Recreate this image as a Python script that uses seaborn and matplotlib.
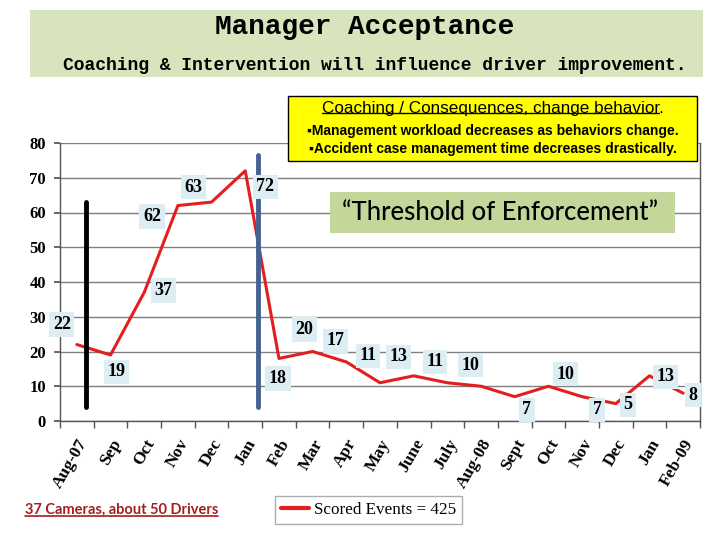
import matplotlib
matplotlib.use('Agg')
import matplotlib.pyplot as plt
import seaborn as sns
from matplotlib.patches import Rectangle
from matplotlib.lines import Line2D

# data
months = ['Aug-07', 'Sep', 'Oct', 'Nov', 'Dec', 'Jan', 'Feb', 'Mar', 'Apr', 'May', 'June',
          'July', 'Aug-08', 'Sept', 'Oct', 'Nov', 'Dec', 'Jan', 'Feb-09']
events = [22, 19, 37, 62, 63, 72, 18, 20, 17, 11, 13, 11, 10, 7, 10, 7, 5, 13, 8]
yticks = [0, 10, 20, 30, 40, 50, 60, 70, 80]

# vertical marker bars (x in category units, y range)
black_bar = (0.27, 4, 63)
blue_bar = (5.37, 4, 76.5)

# pixel offsets of the value labels from their points
label_offsets = [(-15, 20), (6, -17), (19, 2), (-26, -11), (-18, 15), (20, -16), (-1, -20),
                 (-8, 22), (-11, 21), (-12, 27), (-15, 19), (-12, 21), (-11, 21), (12, -13),
                 (17, 12), (15, -13), (12, -1), (16, -1), (10, -2)]

sns.set_theme(style='white')
plt.rcParams['font.family'] = ['Liberation Serif', 'DejaVu Serif']
plt.rcParams['text.color'] = 'black'
plt.rcParams['xtick.color'] = 'black'
plt.rcParams['ytick.color'] = 'black'

fig = plt.figure(figsize=(7.2, 5.4), dpi=100)
fig.patch.set_facecolor('white')
ax = fig.add_axes([60/720, 1-421/540, 640/720, 278/540])

x = list(range(len(months)))
sns.lineplot(x=x, y=events, ax=ax, color='#E41E1E', linewidth=2.2, label='Scored Events = 425')

ax.set_xlim(-0.5, len(months) - 0.5)
ax.set_ylim(0, 80)
ax.set_yticks(yticks)
ax.set_yticklabels([str(v) for v in yticks], fontsize=12, fontweight='bold')
ax.set_xticks(x)
ax.set_xticklabels(months, rotation=60, ha='right', va='top', rotation_mode='anchor',
                   fontsize=12.5, fontweight='bold')
ax.set_xticks([i - 0.5 for i in range(len(months) + 1)], minor=True)
ax.tick_params(axis='x', which='major', length=0, pad=11)
ax.tick_params(axis='x', which='minor', length=5, direction='out', color='#555555', width=1, bottom=True)
ax.tick_params(axis='y', length=4, direction='out', color='#555555', left=True, pad=6)
ax.yaxis.grid(True, color='#7f7f7f', linewidth=1)
ax.set_axisbelow(True)
ax.spines['top'].set_visible(False)
for s in ['left', 'bottom', 'right']:
    ax.spines[s].set_color('#555555')
    ax.spines[s].set_linewidth(1)
ax.set_xlabel('')
ax.set_ylabel('')
ax.get_legend().remove()

# marker bars
ax.plot([black_bar[0]] * 2, black_bar[1:], color='black', linewidth=3.5, zorder=3)
ax.plot([blue_bar[0]] * 2, blue_bar[1:], color='#44628F', linewidth=3.5, zorder=3)

# value labels
for i, v in enumerate(events):
    ax.annotate(str(v), (i, v), xytext=label_offsets[i], textcoords='offset pixels',
                ha='center', va='center', fontsize=13, fontweight='bold', color='black',
                bbox=dict(boxstyle='square,pad=0.2', facecolor='#DCEEF4', edgecolor='none'),
                zorder=4, annotation_clip=False)

# title banner
fig.patches.append(Rectangle((30/720, 1-77/540), 673/720, 67/540, transform=fig.transFigure,
                             facecolor='#D8E4BC', edgecolor='none', zorder=0))
fig.text(0.507, 0.950, 'Manager Acceptance', ha='center', va='center', fontsize=20,
         fontweight='bold', family=['Liberation Mono', 'DejaVu Sans Mono'])
fig.text(0.52, 0.878, 'Coaching & Intervention will influence driver improvement.', ha='center',
         va='center', fontsize=13, fontweight='bold', family=['Liberation Mono', 'DejaVu Sans Mono'])

# yellow callout
fig.patches.append(Rectangle((288/720, 1-161/540), 409/720, 65/540, transform=fig.transFigure,
                             facecolor='#FFFF00', edgecolor='black', linewidth=1, zorder=5))
head = fig.text(0.685, 0.800, 'Coaching / Consequences, change behavior.', ha='center', va='center',
                fontsize=12.3, family=['Liberation Sans', 'DejaVu Sans'], zorder=6)
fig.text(0.685, 0.757, '\u25aaManagement workload decreases as behaviors change.', ha='center',
         va='center', fontsize=10, fontweight='bold', family=['Liberation Sans', 'DejaVu Sans'], zorder=6)
fig.text(0.685, 0.724, '\u25aaAccident case management time decreases drastically.', ha='center',
         va='center', fontsize=10, fontweight='bold', family=['Liberation Sans', 'DejaVu Sans'], zorder=6)

# threshold box
fig.patches.append(Rectangle((330/720, 1-233/540), 345/720, 41/540, transform=fig.transFigure,
                             facecolor='#C4D79B', edgecolor='none', zorder=5))
fig.text(0.694, 0.6056, '\u201cThreshold of Enforcement\u201d', ha='center', va='center',
         fontsize=18.5, fontweight='medium', family=['Lato', 'DejaVu Sans'], zorder=6)

# footer note
cams = fig.text(25/720, 0.0556, '37 Cameras, about 50 Drivers', ha='left', va='center', fontsize=10.5,
                fontweight='bold', color='#A31F1F', family=['Lato', 'DejaVu Sans'])

# legend
leg = fig.legend(handles=[Line2D([0], [0], color='#E41E1E', linewidth=3)],
                 labels=['Scored Events = 425'], loc='center', bbox_to_anchor=(0.512, 0.0556),
                 frameon=True, fancybox=False, edgecolor='#999999', fontsize=12.3,
                 handlelength=1.6, handletextpad=0.3, borderpad=0.35)
leg.get_frame().set_linewidth(1)

# underlines
fig.canvas.draw()
r = fig.canvas.get_renderer()
inv = fig.transFigure.inverted()
bb = head.get_window_extent(r)
(x0, y0), (x1, y1) = inv.transform([[bb.x0, bb.y0], [bb.x1 - 5, bb.y1]])
fig.add_artist(Line2D([x0, x1], [y0 + 0.004, y0 + 0.004], color='black', linewidth=1, zorder=6))
bb = cams.get_window_extent(r)
(x0, y0), (x1, y1) = inv.transform([[bb.x0, bb.y0], [bb.x1, bb.y1]])
fig.add_artist(Line2D([x0, x1], [y0 + 0.002, y0 + 0.002], color='#A31F1F', linewidth=1.2))

fig.savefig('out.png', dpi=100)
